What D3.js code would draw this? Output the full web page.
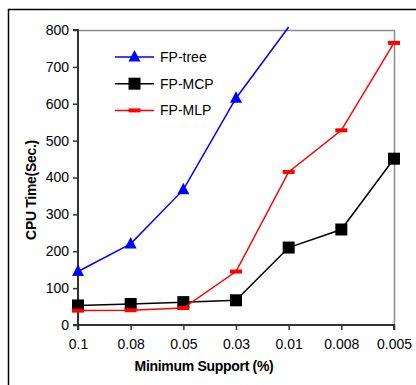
<!DOCTYPE html>
<html>
<head>
<meta charset="utf-8">
<script src="https://cdn.jsdelivr.net/npm/d3@7"></script>
<style>
  body { margin: 0; background: #fff; }
  svg text { font-family: "Liberation Sans", Arial, sans-serif; }
</style>
</head>
<body>
<div id="chart"></div>
<script>
var width = 416, height = 385;
var margin = {top: 30, right: 22, bottom: 60, left: 78};

// data
var supports = ["0.1", "0.08", "0.05", "0.03", "0.01", "0.008", "0.005"];
var fpTree = [145, 220, 367, 615, 808, null, null];
var fpMCP = [53, 57, 62, 67, 210, 259, 451];
var fpMLP = [39, 40, 46, 145, 415, 528, 765];
var yTicks = [0, 100, 200, 300, 400, 500, 600, 700, 800];

var series = [
  {name: "FP-tree", values: fpTree, color: "#0000ff", marker: "triangle"},
  {name: "FP-MCP", values: fpMCP, color: "#000000", marker: "square"},
  {name: "FP-MLP", values: fpMLP, color: "#ff0000", marker: "dash"}
];

var svg = d3.select("#chart").append("svg")
    .attr("width", width)
    .attr("height", height);

// outer frame (only top and left edges in view)
svg.append("rect")
    .attr("x", 8.5).attr("y", 9.5)
    .attr("width", 420).attr("height", 390)
    .attr("fill", "none")
    .attr("stroke", "#000")
    .attr("stroke-width", 1.5);

var w = width - margin.left - margin.right,
    h = height - margin.top - margin.bottom;

var x = d3.scalePoint().domain(supports).range([0, w]);
var y = d3.scaleLinear().domain([0, 800]).range([h, 0]);

var g = svg.append("g")
    .attr("transform", "translate(" + margin.left + "," + margin.top + ")");

// plot area border (gray top/right)
g.append("path")
    .attr("d", "M0,0.5H" + (w + 0.5) + "V" + h)
    .attr("fill", "none")
    .attr("stroke", "#8c8c8c")
    .attr("stroke-width", 1.5);

var yAxis = g.append("g")
    .call(d3.axisLeft(y).tickValues(yTicks).tickSize(5).tickPadding(4));
var xAxis = g.append("g")
    .attr("transform", "translate(0," + h + ")")
    .call(d3.axisBottom(x).tickSize(5).tickPadding(9));

[xAxis, yAxis].forEach(function(a) {
  a.select(".domain").attr("stroke", "#333").attr("stroke-width", 2);
  a.selectAll(".tick line").attr("stroke", "#333").attr("stroke-width", 1.5);
  a.selectAll("text").attr("fill", "#000").style("font-size", "14px")
      .style("font-family", "'Liberation Sans', Arial, sans-serif");
});
xAxis.select(".domain").attr("d", "M0,5V0H" + w + "V5");
yAxis.select(".domain").attr("d", "M-5,0H0V" + h + "H-5");

var line = d3.line()
    .defined(function(d) { return d.v !== null; })
    .x(function(d) { return x(d.s); })
    .y(function(d) { return y(d.v); });

function drawMarker(sel, type, color) {
  if (type === "triangle") {
    sel.append("path").attr("d", "M0,-7L6,4.5L-6,4.5Z").attr("fill", color);
  } else if (type === "square") {
    sel.append("rect").attr("x", -6).attr("y", -6).attr("width", 12).attr("height", 12).attr("fill", color);
  } else {
    sel.append("rect").attr("x", -6).attr("y", -2).attr("width", 12).attr("height", 4).attr("fill", color);
  }
}

series.forEach(function(s) {
  var pts = supports.map(function(sup, i) { return {s: sup, v: s.values[i]}; });
  g.append("path")
      .datum(pts)
      .attr("d", line)
      .attr("fill", "none")
      .attr("stroke", s.color)
      .attr("stroke-width", 1.5);
  pts.filter(function(d) { return d.v !== null && d.v <= 800; }).forEach(function(d) {
    var m = g.append("g").attr("transform", "translate(" + x(d.s) + "," + y(d.v) + ")");
    drawMarker(m, s.marker, s.color);
  });
});

// legend
var legend = svg.append("g").attr("transform", "translate(115,57)");
series.forEach(function(s, i) {
  var row = legend.append("g").attr("transform", "translate(0," + i * 26.7 + ")");
  row.append("line").attr("x1", 0).attr("x2", 39).attr("stroke", s.color).attr("stroke-width", 1.5);
  var m = row.append("g").attr("transform", "translate(19.5,0)");
  drawMarker(m, s.marker, s.color);
  row.append("text")
      .attr("x", 45).attr("y", 0).attr("dy", "0.35em")
      .style("font-size", "14px")
      .text(s.name);
});

// axis titles
svg.append("text")
    .attr("transform", "translate(36,190) rotate(-90)")
    .attr("text-anchor", "middle")
    .style("font-size", "14px")
    .style("font-weight", "bold")
    .style("letter-spacing", "-0.3px")
    .text("CPU Time(Sec.)");

svg.append("text")
    .attr("x", 204)
    .attr("y", 371)
    .attr("text-anchor", "middle")
    .style("font-size", "14px")
    .style("font-weight", "bold")
    .style("letter-spacing", "-0.3px")
    .text("Minimum Support (%)");
</script>
</body>
</html>
